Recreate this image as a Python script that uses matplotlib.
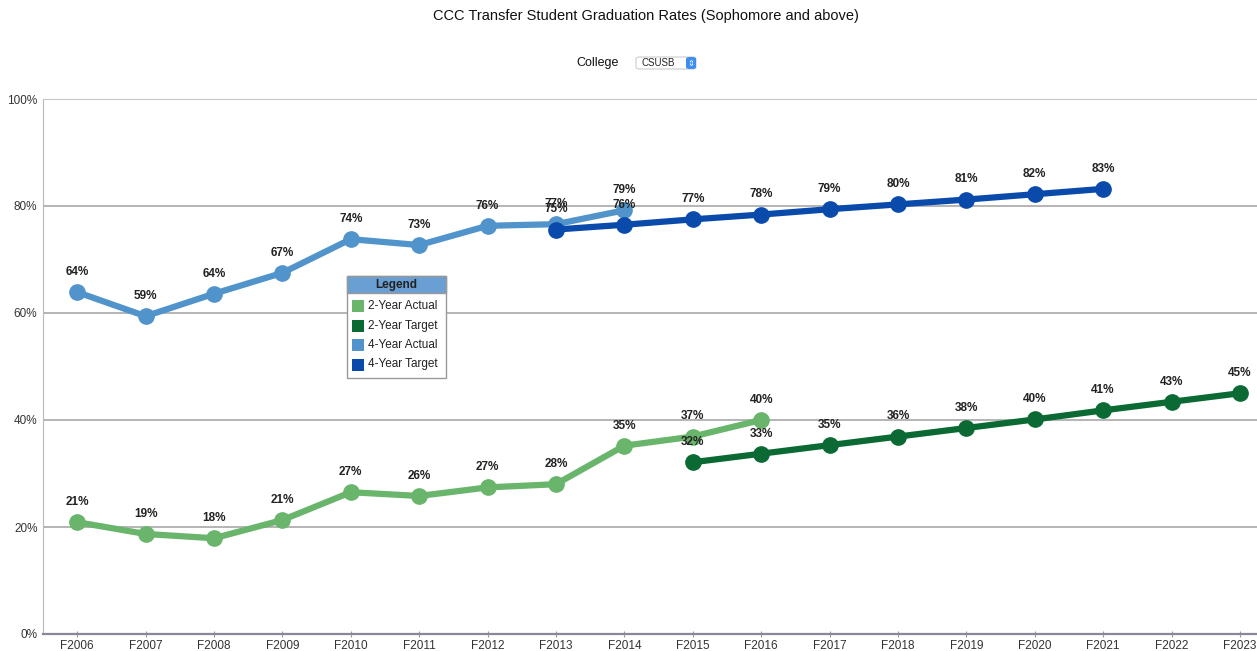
import numpy as np
import matplotlib.pyplot as plt
from matplotlib.patches import FancyBboxPatch, Rectangle

plt.rcParams['font.family'] = ['Liberation Sans', 'DejaVu Sans']

years = ['F2006', 'F2007', 'F2008', 'F2009', 'F2010', 'F2011', 'F2012', 'F2013', 'F2014',
         'F2015', 'F2016', 'F2017', 'F2018', 'F2019', 'F2020', 'F2021', 'F2022', 'F2023']

# 2-year actual, F2006..F2016
two_act = [20.9, 18.7, 17.9, 21.3, 26.5, 25.8, 27.4, 28.0, 35.2, 36.9, 40.0]
two_act_lbl = ['21%', '19%', '18%', '21%', '27%', '26%', '27%', '28%', '35%', '37%', '40%']
# 2-year target, F2015..F2023
two_tgt = [32.1, 33.7, 35.3, 36.9, 38.5, 40.1, 41.8, 43.4, 45.0]
two_tgt_lbl = ['32%', '33%', '35%', '36%', '38%', '40%', '41%', '43%', '45%']
# 4-year actual, F2006..F2014
four_act = [63.9, 59.4, 63.6, 67.5, 73.8, 72.7, 76.3, 76.6, 79.2]
four_act_lbl = ['64%', '59%', '64%', '67%', '74%', '73%', '76%', '77%', '79%']
# 4-year target, F2013..F2021
four_tgt = [75.6, 76.5, 77.5, 78.4, 79.4, 80.3, 81.2, 82.2, 83.2]
four_tgt_lbl = ['75%', '76%', '77%', '78%', '79%', '80%', '81%', '82%', '83%']

series = [
    ('2-Year Actual', 0, two_act, two_act_lbl, '#69b56b'),
    ('2-Year Target', 9, two_tgt, two_tgt_lbl, '#0b6a33'),
    ('4-Year Actual', 0, four_act, four_act_lbl, '#5193cb'),
    ('4-Year Target', 7, four_tgt, four_tgt_lbl, '#0a4aab'),
]

fig = plt.figure(figsize=(12.57, 6.51), dpi=100)
ax = fig.add_axes([43 / 1257, 1 - 634 / 651, 1 - 43 / 1257, (634 - 99) / 651])

for name, start, vals, lbls, col in series:
    x = np.arange(start, start + len(vals))
    ax.plot(x, vals, color=col, lw=4.5, marker='o', ms=11, solid_capstyle='round', zorder=3)
    for xi, v, l in zip(x, vals, lbls):
        ax.annotate(l, (xi, v), xytext=(0, 14.5), textcoords='offset points',
                    ha='center', va='center', fontsize=8.5, fontweight='bold', color='#222222')

ax.set_xlim(-0.5, 17.25)
ax.set_ylim(0, 100)
ax.set_xticks(range(len(years)))
ax.set_xticklabels(years)
ax.set_yticks([0, 20, 40, 60, 80, 100])
ax.set_yticklabels(['0%', '20%', '40%', '60%', '80%', '100%'])
ax.tick_params(axis='both', labelsize=8.5, colors='#333333')
ax.tick_params(axis='y', length=0, pad=4)
ax.tick_params(axis='x', color='#999999', direction='inout', length=5, pad=2)
for y in [20, 40, 60, 80]:
    ax.axhline(y, color='#b4b4b4', lw=1.4, zorder=1)
ax.spines['right'].set_visible(False)
ax.spines['top'].set_color('#c8c8c8')
ax.spines['left'].set_color('#b8b8b8')
ax.spines['bottom'].set_color('#888899')
ax.spines['bottom'].set_linewidth(1.6)

# legend box
lx, ly, lw_, lh = 347 / 1257, 1 - 378 / 651, 99 / 1257, 102 / 651
fig.patches.append(Rectangle((lx, ly), lw_, lh, transform=fig.transFigure,
                             facecolor='white', edgecolor='#999999', lw=1, zorder=5))
fig.patches.append(Rectangle((lx, ly + lh - 17 / 651), lw_, 17 / 651, transform=fig.transFigure,
                             facecolor='#6a9fd3', edgecolor='#999999', lw=1, zorder=6))
fig.text(lx + lw_ / 2, ly + lh - 8.5 / 651, 'Legend', ha='center', va='center',
         fontsize=8.5, fontweight='bold', color='#222222', zorder=7)
for i, (name, start, vals, lbls, col) in enumerate(series):
    yy = 1 - (306 + 19.5 * i) / 651
    fig.patches.append(Rectangle((352 / 1257, yy - 6 / 651), 12 / 1257, 12 / 651,
                                 transform=fig.transFigure, facecolor=col, edgecolor='none', zorder=7))
    fig.text(368 / 1257, yy, name, ha='left', va='center', fontsize=8.5, color='#222222', zorder=7)

fig.text(646 / 1257, 1 - 16 / 651, 'CCC Transfer Student Graduation Rates (Sophomore and above)',
         ha='center', va='center', fontsize=10.5, color='#111111')
fig.text(619 / 1257, 1 - 63 / 651, 'College', ha='right', va='center', fontsize=9, color='#111111')
fig.patches.append(FancyBboxPatch((636 / 1257, 1 - 69 / 651), 60 / 1257, 12 / 651,
                                  boxstyle='round,pad=0,rounding_size=0.003', transform=fig.transFigure,
                                  facecolor='white', edgecolor='#cccccc', lw=0.8))
fig.patches.append(FancyBboxPatch((686 / 1257, 1 - 69 / 651), 10 / 1257, 12 / 651,
                                  boxstyle='round,pad=0,rounding_size=0.003', transform=fig.transFigure,
                                  facecolor='#3d8ef0', edgecolor='none'))
fig.text(641 / 1257, 1 - 63 / 651, 'CSUSB', ha='left', va='center', fontsize=7, color='#222222')
fig.text(691 / 1257, 1 - 63 / 651, '⇕', ha='center', va='center', fontsize=6,
         color='white', family='DejaVu Sans')

fig.savefig('out.png', dpi=100)
